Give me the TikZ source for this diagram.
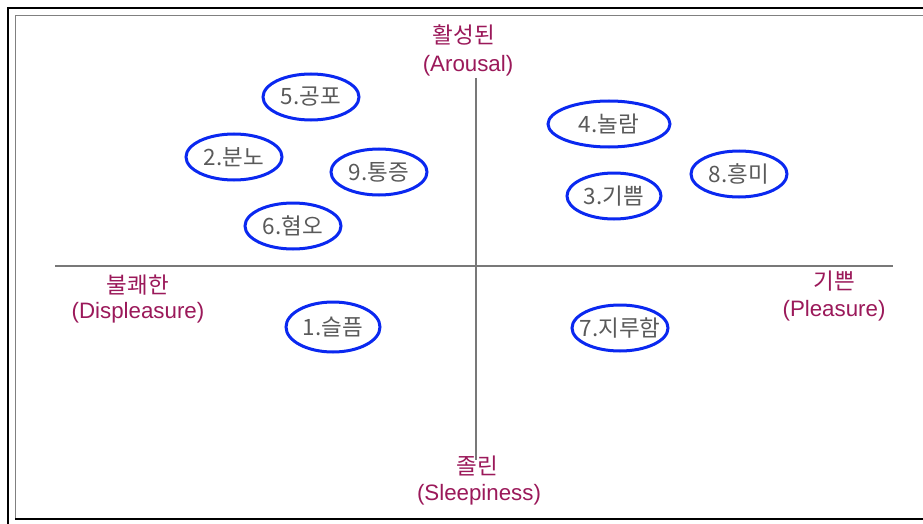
\documentclass[tikz,border=0pt]{standalone}
\usepackage{fontspec}
\usetikzlibrary{shapes.geometric}
\setmainfont{Liberation Sans}
\newfontfamily\kr{Noto Sans CJK KR}
\definecolor{axisgray}{RGB}{120,120,120}
\definecolor{labpurple}{RGB}{155,25,90}
\definecolor{ellblue}{RGB}{10,40,240}
\definecolor{txtgray}{RGB}{90,90,90}
\begin{document}
\begin{tikzpicture}[x=1pt,y=-1pt,
  emo/.style={draw=ellblue, line width=3pt, ellipse, inner sep=-15pt,
    minimum width=#1, minimum height=46pt, text=txtgray,
    font=\kr\fontsize{22.5}{24}\selectfont},
  emo/.default=96pt,
  krlab/.style={text=labpurple, inner sep=0pt, font=\kr\fontsize{22.5}{24}\selectfont},
  enlab/.style={text=labpurple, inner sep=0pt, font=\fontsize{22.3}{25}\selectfont},
  axis/.style={draw=axisgray, line width=1.8pt}]
\useasboundingbox (0,0) rectangle (923,524);
\fill[white] (0,0) rectangle (923,524);
% frames
\draw[black, line width=2.2pt] (923,7.8) -- (7.8,7.8) -- (7.8,524);
\draw[gray, line width=1.3pt] (923,15.3) -- (15.3,15.3) -- (15.3,519);
\draw[black, line width=2pt] (15.3,519.3) -- (923,519.3);
% axes
\coordinate (top) at (476,78);
\coordinate (bot) at (476,460);
\coordinate (left) at (55,266);
\coordinate (right) at (893,266);
\draw[axis] (top) -- (bot);
\draw[axis] (left) -- (right);
% labels
\node[krlab] (arK) at (464,35) {활성된};
\node[enlab] (arE) at (468,66) {(Arousal)};
\node[krlab] (dpK) at (138,285) {불쾌한};
\node[enlab] (dpE) at (138,313) {(Displeasure)};
\node[krlab] (plK) at (834,281) {기쁜};
\node[enlab] (plE) at (834,311) {(Pleasure)};
\node[krlab] (slK) at (477,466) {졸린};
\node[enlab] (slE) at (479,495) {(Sleepiness)};
% emotions
\node[emo] (e5) at (311,97) {5.공포};
\node[emo] (e2) at (234,157) {2.분노};
\node[emo] (e9) at (379,172) {9.통증};
\node[emo] (e6) at (293,226) {6.혐오};
\node[emo=122pt] (e4) at (609,124) {4.놀람};
\node[emo=94pt] (e3) at (614,196) {3.기쁨};
\node[emo] (e8) at (739,174) {8.흥미};
\node[emo=94pt, minimum height=50pt] (e1) at (333,327) {1.슬픔};
\node[emo] (e7) at (620,328) {7.지루함};
\end{tikzpicture}
\end{document}
